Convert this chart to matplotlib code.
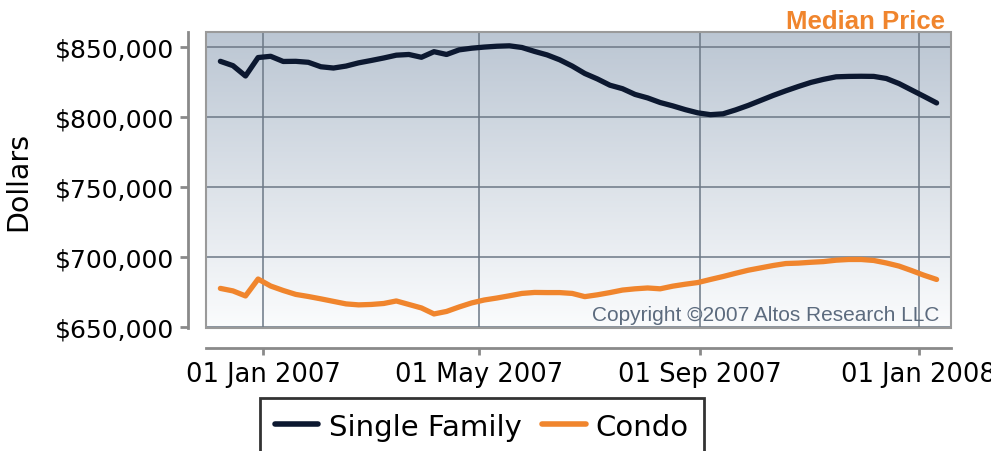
import numpy as np
import pandas as pd
import matplotlib
matplotlib.use("Agg")
import matplotlib.pyplot as plt
import matplotlib.dates as mdates
from matplotlib.ticker import FuncFormatter
from matplotlib.patches import Rectangle

# weekly samples, Dec 2006 - Jan 2008
dates = pd.date_range("2006-12-08", periods=58, freq="7D")

single_family = [
    840000, 836900, 829500, 842700, 843600, 839900, 840000, 839300, 836100, 835200,
    836600, 838900, 840600, 842400, 844400, 844900, 842900, 846900, 844900, 848200,
    849400, 850200, 850800, 851100, 849900, 847100, 844600, 841100, 836600, 831300,
    827400, 822900, 820400, 816300, 813800, 810500, 808100, 805400, 803100, 801800,
    802400, 805200, 808400, 812000, 815600, 818900, 822000, 824900, 827100, 828900,
    829200, 829300, 829200, 827700, 824100, 819500, 814900, 810200,
]

condo = [
    677400, 675600, 672000, 684100, 679100, 675900, 673100, 671600, 669900, 668100,
    666300, 665600, 665900, 666600, 668400, 665900, 663400, 659100, 660900, 664100,
    667000, 669100, 670500, 672100, 673800, 674500, 674400, 674400, 673800, 671500,
    672800, 674400, 676200, 677100, 677700, 677100, 679000, 680400, 681600, 683800,
    685900, 688200, 690400, 692100, 693800, 695200, 695500, 696100, 696600, 697600,
    698100, 698100, 697400, 695600, 693400, 690200, 686800, 683800,
]

yticks = [650000, 700000, 750000, 800000, 850000]

navy = "#0c1830"
orange = "#f0852d"
grid_c = "#6c7886"

fig = plt.figure(figsize=(9.91, 4.52), dpi=100)
ax = fig.add_axes([0.2079, 0.272, 0.7517, 0.655])

# gradient background
grad = np.linspace(0, 1, 256).reshape(-1, 1)
top = np.array([187, 198, 211]) / 255
bot = np.array([251, 252, 253]) / 255
img = top * (1 - grad[..., None]) + bot * grad[..., None]
ax.imshow(img, extent=[0, 1, 0, 1], transform=ax.transAxes,
          aspect="auto", zorder=0)

ax.plot(dates, single_family, color=navy, lw=3.8, solid_capstyle="round",
        label="Single Family", zorder=3)
ax.plot(dates, condo, color=orange, lw=3.8, solid_capstyle="round",
        label="Condo", zorder=3)

ax.set_xlim(pd.Timestamp("2006-11-30"), pd.Timestamp("2008-01-19"))
ax.set_ylim(649000, 861000)

ax.xaxis.set_major_locator(mdates.MonthLocator(bymonth=[1, 5, 9]))
ax.xaxis.set_major_formatter(mdates.DateFormatter("%d %b %Y"))
ax.set_yticks(yticks)
ax.yaxis.set_major_formatter(FuncFormatter(lambda v, p: f"${v:,.0f}"))

ax.grid(True, color=grid_c, lw=1.1, zorder=1)
ax.set_axisbelow(False)
for gl in ax.get_xgridlines() + ax.get_ygridlines():
    gl.set_zorder(1)

# detached axis lines
for s in ["top", "right"]:
    ax.spines[s].set_visible(False)
ax.spines["left"].set_position(("outward", 13))
ax.spines["bottom"].set_position(("outward", 14))
for s in ["left", "bottom"]:
    ax.spines[s].set_color("#8a8a8a")
    ax.spines[s].set_linewidth(2)

ax.tick_params(axis="y", length=6, width=2, color="#8a8a8a", pad=4, labelsize=18)
ax.tick_params(axis="x", length=5, width=2, color="#8a8a8a", pad=5, labelsize=18.5)
ax.set_ylabel("Dollars", fontsize=20.5, labelpad=16)

# plot frame
ax.add_patch(Rectangle((0, 0), 1, 1, transform=ax.transAxes, fill=False,
                       edgecolor="#9a9a9a", lw=1.5, clip_on=False, zorder=4))

fig.text(945 / 991, 1 - 22 / 452, "Median Price", color=orange,
         fontsize=18.5, fontweight="bold", family="Liberation Sans",
         ha="right", va="center")
ax.text(0.985, 0.015, "Copyright \u00a92007 Altos Research LLC",
        transform=ax.transAxes, color="#5c6b7e", fontsize=15,
        family="Liberation Sans", ha="right", va="bottom", zorder=5)

leg = fig.legend(loc="upper left", bbox_to_anchor=(260 / 991, 1 - 399 / 452),
                 ncol=2, fontsize=21, frameon=True, fancybox=False,
                 handlelength=1.5, handletextpad=0.35, columnspacing=0.7,
                 borderpad=0.5, borderaxespad=0)
leg.get_frame().set_edgecolor("black")
leg.get_frame().set_linewidth(2)
for ln in leg.get_lines():
    ln.set_linewidth(4)

fig.savefig("out.png", dpi=100)
